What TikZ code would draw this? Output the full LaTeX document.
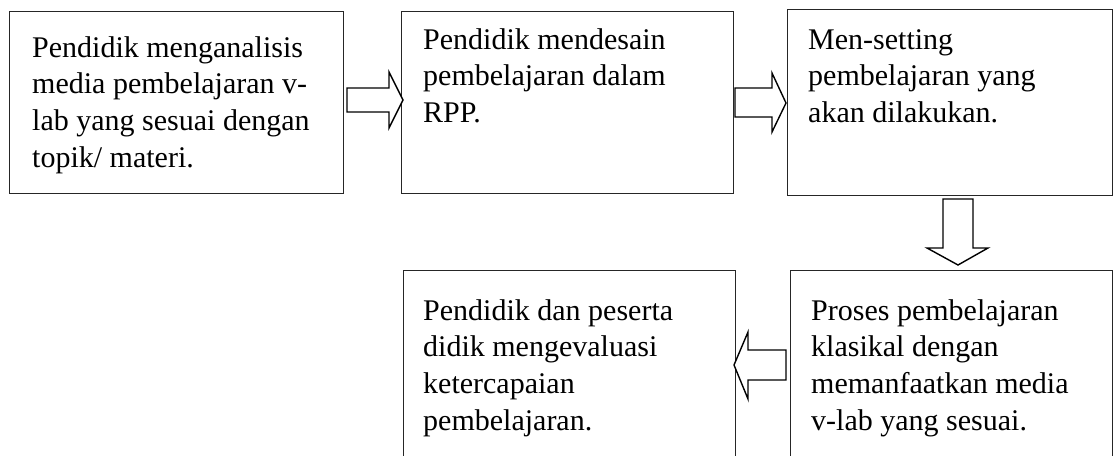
\documentclass[tikz,border=0pt]{standalone}
\usepackage{fontspec}
\setmainfont{Liberation Serif}
\begin{document}
\begin{tikzpicture}[x=1pt,y=-1pt,
  box/.style={draw=black!85, line width=1.3pt, inner sep=0pt, anchor=north west},
  txt/.style={anchor=north west, inner sep=0pt, align=left, font=\fontsize{30}{36.7}\selectfont},
  blockarrow/.style={draw=black, line width=1.4pt, fill=white, line join=miter}]
\useasboundingbox (0,0) rectangle (1113,455);
\clip (0,0) rectangle (1113,455);
% boxes
\node[box, minimum width=334pt, minimum height=182pt] (b1) at (9,11) {};
\node[box, minimum width=332pt, minimum height=182pt] (b2) at (401,11) {};
\node[box, minimum width=325pt, minimum height=186pt] (b3) at (787,9) {};
\node[box, minimum width=322pt, minimum height=200pt] (b4) at (790,270) {};
\node[box, minimum width=332pt, minimum height=200pt] (b5) at (403,270) {};
% texts
\node[txt] (t1) at (32,31.3) {\strut Pendidik menganalisis\\media pembelajaran v-\\lab yang sesuai dengan\\topik/ materi.};
\node[txt] (t2) at (423,23.3) {\strut Pendidik mendesain\\pembelajaran dalam\\RPP.};
\node[txt] (t3) at (808,23.3) {\strut Men-setting\\pembelajaran yang\\akan dilakukan.};
\node[txt] (t4) at (811,294.3) {\strut Proses pembelajaran\\klasikal dengan\\memanfaatkan media\\v-lab yang sesuai.};
\node[txt] (t5) at (423,294.3) {\strut Pendidik dan peserta\\didik mengevaluasi\\ketercapaian\\pembelajaran.};
% block arrows
\draw[blockarrow] (347,88) -- (389,88) -- (389,72) -- (403,100) -- (389,128) -- (389,112) -- (347,112) -- cycle;
\draw[blockarrow] (735,88) -- (772,88) -- (772,73) -- (786,103) -- (772,132) -- (772,117) -- (735,117) -- cycle;
\draw[blockarrow] (943,199) -- (973,199) -- (973,248) -- (988,248) -- (958,265) -- (927,248) -- (943,248) -- cycle;
\draw[blockarrow] (786,350) -- (748,350) -- (748,332) -- (734,365) -- (748,399) -- (748,380) -- (786,380) -- cycle;
\end{tikzpicture}
\end{document}
